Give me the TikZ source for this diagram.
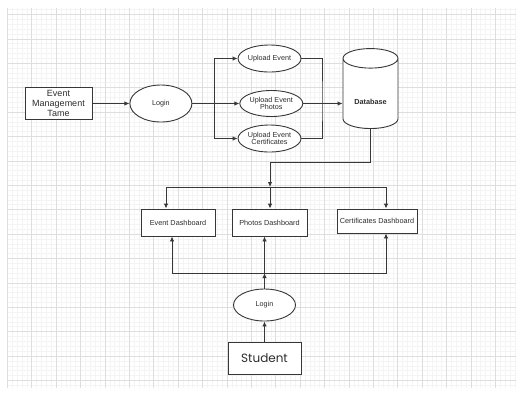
\documentclass[tikz,border=0pt]{standalone}
\usepackage{fontspec}
\setmainfont{Liberation Sans}
\newfontfamily\studentfont{Poppins}
\usetikzlibrary{arrows.meta, positioning, shapes.geometric}
\definecolor{my_line}{RGB}{55, 55, 55}
\definecolor{my_text}{RGB}{45, 45, 45}
\definecolor{my_minor}{RGB}{244, 244, 244}
\definecolor{my_major}{RGB}{222, 222, 222}
\tikzset {
  box/.style = {draw=my_line, line width=0.9pt, rectangle, fill=white, text=my_text, align=center, inner sep=1pt, font=\fontsize{7.3}{8.3}\selectfont},
  oval/.style = {draw=my_line, line width=0.9pt, ellipse, fill=white, text=my_text, align=center, inner sep=0pt, font=\fontsize{7.2}{7.8}\selectfont},
  store/.style = {draw=my_line, line width=0.9pt, cylinder, shape border rotate=90, aspect=0.5, fill=white, text=my_text, font=\bfseries\fontsize{7.3}{8}\selectfont},
  line/.style = {->, line width=0.9pt, color=my_line, >={Latex[length=5pt,width=4.5pt]}},
  plain/.style = {line width=0.9pt, color=my_line},
  gridminor/.style = {my_minor, line width=0.5pt},
  gridmajor/.style = {my_major, line width=0.6pt}
}

\begin{document}
\begin{tikzpicture}[x=1pt, y=-1pt]
    \useasboundingbox (0,0) rectangle (516,392);

    % background grid
    \foreach \i in {0,...,104} \draw[gridminor] (7.3+4.88*\i,8) -- (7.3+4.88*\i,388);
    \foreach \i in {0,...,77} \draw[gridminor] (7.3,9.52+4.88*\i) -- (516,9.52+4.88*\i);
    \foreach \i in {0,...,20} \draw[gridmajor] (7.3+24.4*\i,8) -- (7.3+24.4*\i,388);
    \foreach \i in {0,...,15} \draw[gridmajor] (7.3,14.4+24.4*\i) -- (516,14.4+24.4*\i);

    % event management side
    \node[box, minimum width=67pt, minimum height=32pt, font=\fontsize{9}{9.6}\selectfont] (team) at (58.5,103.5) {Event\\Management\\Tame};
    \node[oval, minimum width=62pt, minimum height=37pt, right=37pt of team] (login) {Login};
    \node[oval, minimum width=63pt, minimum height=26pt, right=47pt of login] (upph) {Upload Event\\Photos};
    \node[oval, minimum width=63pt, minimum height=27pt] (upev) at (269.5,58.5) {Upload Event};
    \node[oval, minimum width=63pt, minimum height=27pt] (upce) at (269.5,138.5) {Upload Event\\Certificates};
    \node[store, minimum width=55pt, minimum height=80pt] (db) at (370.5,96) {\phantom{Database}};
    \node[font=\bfseries\fontsize{7.3}{8}\selectfont, text=my_text] (dbname) at (370.5,102) {Database};

    \coordinate (fork) at (214,103.5);
    \coordinate (join) at (322,103.5);

    \draw[line] (team) -- (login);
    \draw[plain] (login) -- (fork);
    \draw[line] (fork) |- (upev);
    \draw[line] (fork) -- (upph);
    \draw[line] (fork) |- (upce);
    \draw[plain] (upev) -| (join) |- (upce);
    \draw[line] (upph) -- (upph -| db.west);

    % dashboards
    \node[box, minimum width=74pt, minimum height=27pt] (evd) at (178,222.5) {Event Dashboard};
    \node[box, minimum width=75pt, minimum height=27pt] (phd) at (269.5,222.5) {Photos Dashboard};
    \node[box, minimum width=80pt, minimum height=24pt] (ced) at (377,221) {Certificates Dashboard};

    \coordinate (bend) at (270,162);
    \coordinate (bus) at (270,187);

    \draw[line] (db.south) |- (bend) -- (bus);
    \draw[line] (bus) -| ([xshift=-12pt]evd.north);
    \draw[line] (bus) -- (bus |- phd.north);
    \draw[line] (bus) -| ([xshift=9pt]ced.north);

    % student side
    \node[oval, minimum width=62pt, minimum height=32pt] (login2) at (264.5,305) {Login};
    \node[box, minimum width=73pt, minimum height=32pt, font=\studentfont\fontsize{12}{14}\selectfont] (student) at (264.5,358) {Student};

    \coordinate (hub) at (264.5,273);

    \draw[line] (student) -- (login2);
    \draw[line] (login2) -- (hub);
    \draw[line] (hub) -- (hub |- phd.south);
    \draw[line] (hub) -| ([xshift=-6pt]evd.south);
    \draw[line] (hub) -| ([xshift=9pt]ced.south);

\end{tikzpicture}
\end{document}
